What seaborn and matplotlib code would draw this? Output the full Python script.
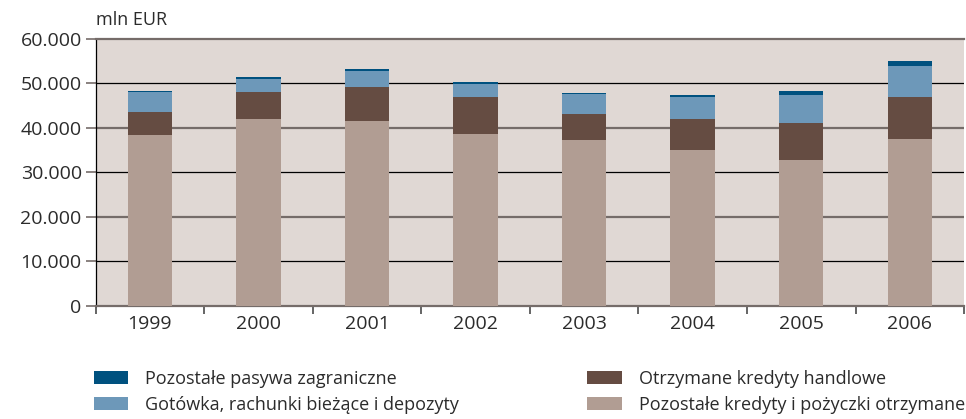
import numpy as np
import pandas as pd
import matplotlib
matplotlib.use("Agg")
import matplotlib.pyplot as plt
import seaborn as sns
from matplotlib.patches import Patch

# --- DATA (mln EUR) ---
years = ["1999", "2000", "2001", "2002", "2003", "2004", "2005", "2006"]
pozostale_kredyty = [38350, 41950, 41500, 38570, 37230, 34980, 32730, 37450]
kredyty_handlowe = [5170, 6060, 7630, 8320, 5840, 6960, 8320, 9440]
gotowka_depozyty = [4570, 2920, 3600, 2990, 4490, 4950, 6290, 6960]
pozostale_pasywa = [220, 450, 450, 450, 230, 450, 900, 1130]

series_names = [
    "Pozostałe kredyty i pożyczki otrzymane",
    "Otrzymane kredyty handlowe",
    "Gotówka, rachunki bieżące i depozyty",
    "Pozostałe pasywa zagraniczne",
]
colors = {
    "Pozostałe kredyty i pożyczki otrzymane": "#b19d93",
    "Otrzymane kredyty handlowe": "#654c42",
    "Gotówka, rachunki bieżące i depozyty": "#6d98b9",
    "Pozostałe pasywa zagraniczne": "#00517f",
}

df = pd.DataFrame({
    "year": years,
    series_names[0]: pozostale_kredyty,
    series_names[1]: kredyty_handlowe,
    series_names[2]: gotowka_depozyty,
    series_names[3]: pozostale_pasywa,
})
cum = df[series_names].cumsum(axis=1)
cum["year"] = years

sns.set_theme(style="white")
plt.rcParams["font.family"] = ["Open Sans", "DejaVu Sans"]

fig = plt.figure(figsize=(9.66, 4.19), dpi=100)
ax = fig.add_axes([0.099, 0.2704, 0.899, 0.6372])
ax.set_facecolor("#e0d8d4")

# stacked bars: draw the cumulative totals from top layer down
for name in reversed(series_names):
    sns.barplot(data=cum, x="year", y=name, color=colors[name], width=0.41,
                saturation=1, linewidth=0, ax=ax, zorder=3)

ax.set_ylim(0, 60000)
ax.set_xlim(-0.5, 7.5)
yt = np.arange(0, 60001, 10000)
ax.set_yticks(yt)
ax.set_yticklabels(["0"] + [f"{v // 1000}.000" for v in yt[1:]])

# alternating grid lines
for v in yt[1:-1]:
    if (v // 10000) % 2 == 1:
        ax.axhline(v, color="black", lw=0.9, zorder=1)
    else:
        ax.axhline(v, color="#756c69", lw=1.6, zorder=1)

for s in ["top", "bottom"]:
    ax.spines[s].set_color("#756c69")
    ax.spines[s].set_linewidth(1.6)
ax.spines["right"].set_visible(False)
ax.spines["left"].set_color("black")
ax.spines["left"].set_linewidth(0.9)

ax.set_xlabel("")
ax.set_ylabel("")
ax.tick_params(axis="y", which="major", left=True, length=7, width=1.2,
               color="#756c69", labelsize=14, labelcolor="#2b2b2b", pad=3)

# year labels centred, tick marks between the categories
ax.set_xticks(range(len(years)))
ax.set_xticklabels(years)
ax.tick_params(axis="x", which="major", length=0, labelsize=14,
               labelcolor="#2b2b2b", pad=7)
ax.set_xticks(np.arange(-0.5, 8, 1), minor=True)
ax.tick_params(axis="x", which="minor", bottom=True, length=6, width=1.2,
               color="#4a4a4a")

fig.text(0.099, 0.952, "mln EUR", fontsize=13, color="#2b2b2b", va="center")

# legend: two columns placed separately
legend_cols = [
    (0.097, [series_names[3], series_names[2]]),
    (0.608, [series_names[1], series_names[0]]),
]
for xpos, names in legend_cols:
    handles = [Patch(facecolor=colors[n], edgecolor="none") for n in names]
    leg = fig.legend(handles, names, loc="upper left",
                     bbox_to_anchor=(xpos, 0.118), frameon=False, fontsize=13,
                     handlelength=1.9, handleheight=0.75, handletextpad=0.95,
                     labelspacing=0.45, borderpad=0, borderaxespad=0,
                     labelcolor="#2b2b2b")

fig.savefig("out.png", dpi=100)
